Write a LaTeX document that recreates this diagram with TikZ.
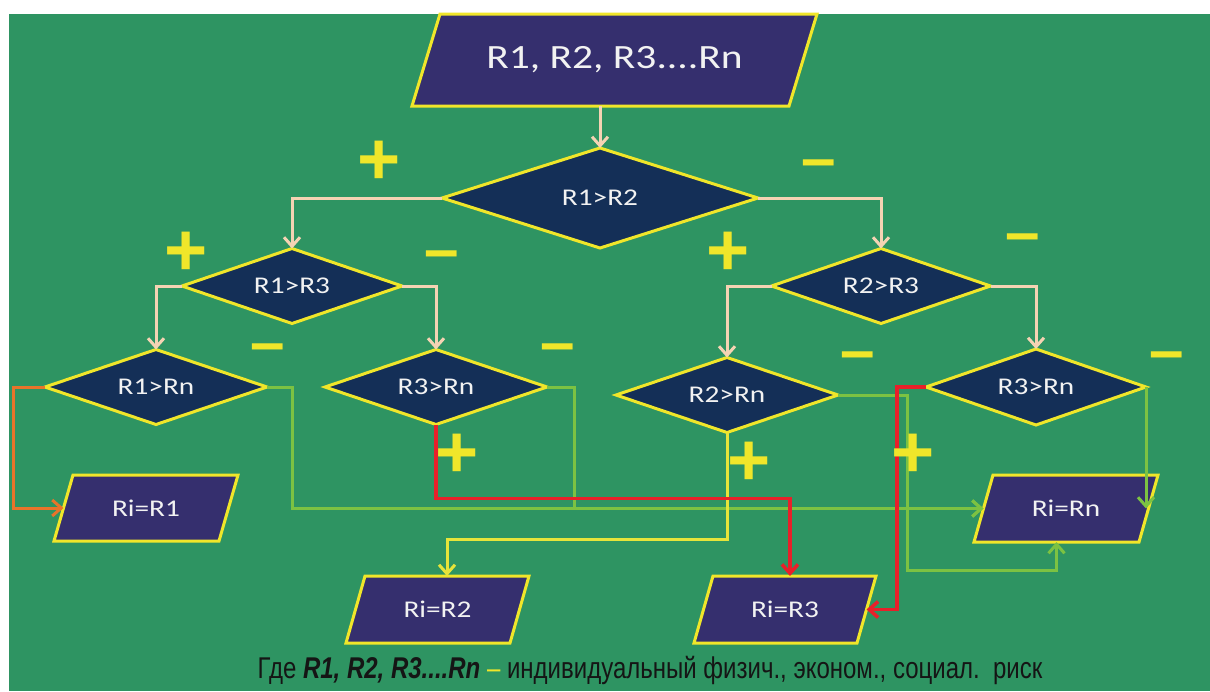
\documentclass[tikz,border=0pt]{standalone}
\usepackage{fontspec}
\setmainfont{Carlito}
\newfontfamily\lblfont[FakeStretch=1.22]{Carlito}
\newfontfamily\botfont[FakeStretch=0.8]{Liberation Sans}
\newfontfamily\signfont{Liberation Sans}
\usetikzlibrary{shapes.geometric,arrows.meta,calc}
\pgfdeclarelayer{back}
\pgfsetlayers{back,main}
\definecolor{bg}{HTML}{2E9462}
\definecolor{pfill}{HTML}{352F6E}
\definecolor{dfill}{HTML}{142F57}
\definecolor{yel}{HTML}{F0E62A}
\definecolor{peach}{HTML}{F5D3B3}
\definecolor{lgreen}{HTML}{7CC242}
\definecolor{redline}{HTML}{E8202A}
\definecolor{orangeline}{HTML}{E8742A}
\definecolor{yline}{HTML}{E6E43A}
\definecolor{darktext}{HTML}{151515}
\definecolor{wtext}{HTML}{F2F2F2}
\tikzset{
  dia/.style={diamond, aspect=3, draw=yel, fill=dfill, line width=3pt, inner sep=0pt, outer sep=0pt,
    text=wtext, font=\lblfont\fontsize{24}{24}\selectfont},
  ptext/.style={rectangle, inner sep=0pt, outer sep=0pt, text=wtext,
    font=\lblfont\fontsize{24}{24}\selectfont},
  pshape/.style={fill=pfill, draw=yel, line width=3pt, line join=miter},
  conn/.style={line width=3pt, -{Straight Barb[length=9pt,width=16pt]}},
  plus/.style={text=yel, font=\signfont\bfseries\fontsize{74}{74}\selectfont, inner sep=0pt},
  minus/.style={text=yel, font=\signfont\bfseries\fontsize{62}{62}\selectfont, inner sep=0pt},
}
% parallelogram behind a rectangular text node: #1 node name, #2 horizontal slant offset
\newcommand\parashape[2]{%
  \path[pshape] ($(#1.north west)+(#2/2,0)$) -- ($(#1.north east)+(#2/2,0)$)
    -- ($(#1.south east)-(#2/2,0)$) -- ($(#1.south west)-(#2/2,0)$) -- cycle;}
\begin{document}
\begin{tikzpicture}[x=1pt,y=-1pt]
\useasboundingbox (0,0) rectangle (1210,691);

% input
\node[ptext, minimum width=377pt, minimum height=92pt] (inp) at (614.5,60)
  {\fontsize{34}{34}\selectfont R1, R2, R3....Rn};

% decisions
\node[dia, minimum width=316pt, minimum height=100pt] (d12) at (600,198) {R1>R2};
\node[dia, minimum width=220pt, minimum height=75pt] (d13) at (292,286) {R1>R3};
\node[dia, minimum width=219pt, minimum height=75pt] (d23) at (881,286) {R2>R3};
\node[dia, minimum width=222pt, minimum height=75pt] (d1n) at (156,387) {R1>Rn};
\node[dia, minimum width=222pt, minimum height=75pt] (d3a) at (436,387) {R3>Rn};
\node[dia, minimum width=222pt, minimum height=75pt] (d2n) at (727,395) {R2>Rn};
\node[dia, minimum width=220pt, minimum height=76pt] (d3b) at (1036,387) {R3>Rn};

% results
\node[ptext, minimum width=165pt, minimum height=66pt] (r1) at (146,508) {Ri=R1};
\node[ptext, minimum width=164pt, minimum height=67pt] (r2) at (437.5,609.5) {Ri=R2};
\node[ptext, minimum width=163pt, minimum height=67pt] (r3) at (785,609.5) {Ri=R3};
\node[ptext, minimum width=165pt, minimum height=67pt] (rn) at (1066,508.5) {Ri=Rn};

\begin{pgfonlayer}{back}
  \fill[white] (0,0) rectangle (1210,691);
  \fill[bg] (9,14) rectangle (1210,691);
  \parashape{inp}{28}
  \parashape{r1}{19}
  \parashape{r2}{19}
  \parashape{r3}{19}
  \parashape{rn}{19}
\end{pgfonlayer}

% peach connectors
\draw[conn, peach] (d12.north |- inp.south) -- (d12.north);
\draw[conn, peach] (d12.west) -| (d13.north);
\draw[conn, peach] (d12.east) -| (d23.north);
\draw[conn, peach] (d13.west) -| (d1n.north);
\draw[conn, peach] (d13.east) -| (d3a.north);
\draw[conn, peach] (d23.west) -| (d2n.north);
\draw[conn, peach] (d23.east) -| (d3b.north);

% outcome connectors
\draw[conn, orangeline] (d1n.west) -- ++(-32,0) |- (r1.west);
\draw[conn, lgreen] (d1n.east) -- ++(25,0) |- (rn.west);
\draw[conn, lgreen] (d3a.east) -- ++(27,0) |- (rn.west);
\draw[conn, yline] (d2n.south) -- ++(0,107) -| ($(r2.north)+(9.5,0)$);
\draw[conn, lgreen] (d2n.east) -- ++(69,0) -- ++(0,175) -| ($(rn.south)-(9.5,0)$);
\draw[conn, lgreen] (d3b.east) -- (d3b.east |- rn.east);
\draw[conn, redline, line width=3.5pt] (d3a.south) -- ++(0,74) -| ($(r3.north)+(5,0)$);
\draw[conn, redline, line width=3.5pt] (d3b.west) -- ++(-29,0) |- (r3.east);

% signs
\node[plus] (s1) at (379,163) {+};
\node[minus] (s2) at (819,170) {–};
\node[plus] (s3) at (186,254) {+};
\node[minus] (s4) at (442,261) {–};
\node[plus] (s5) at (728,254) {+};
\node[minus] (s6) at (1023,244) {–};
\node[minus] (s7) at (268,354) {–};
\node[minus] (s8) at (558,354) {–};
\node[minus] (s9) at (858,362) {–};
\node[minus] (s10) at (1167,362) {–};
\node[plus] (s11) at (457,456) {+};
\node[plus] (s12) at (749,464) {+};
\node[plus] (s13) at (913,456) {+};

% caption
\node[text=darktext, font=\botfont\fontsize{30}{30}\selectfont] (cap) at (650,670)
  {Где \textbf{\textit{R1, R2, R3....Rn}} \textcolor{yel}{–} индивидуальный физич.,\ эконом.,\ социал.\ \ риск};
\end{tikzpicture}
\end{document}
